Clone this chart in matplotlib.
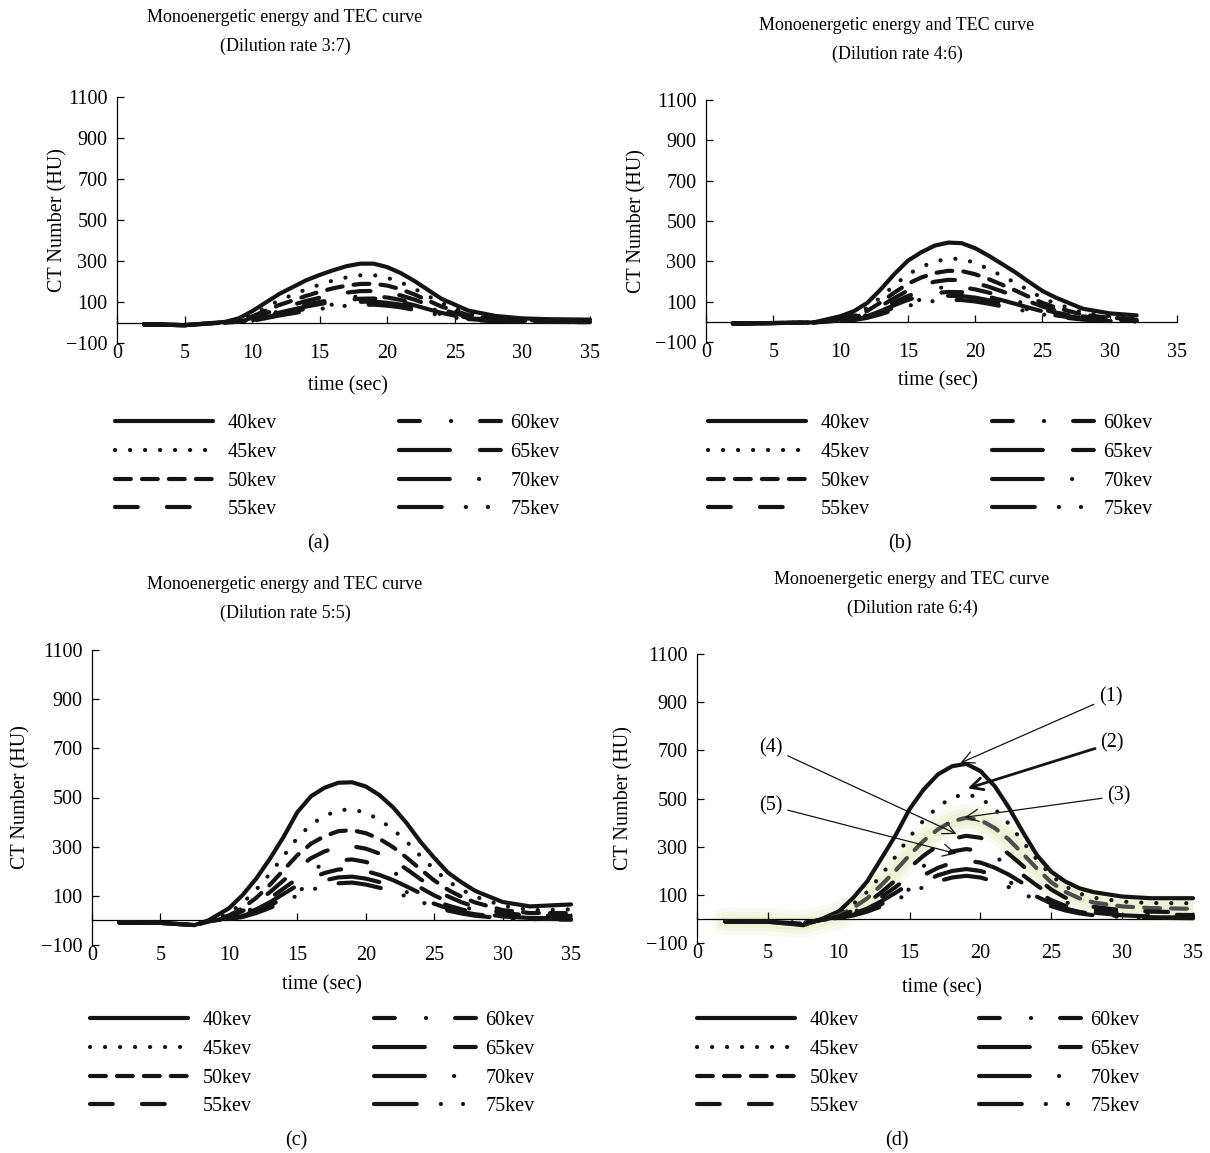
import matplotlib.pyplot as plt
import numpy as np

plt.rcParams['font.family'] = ['Liberation Serif', 'DejaVu Serif']
plt.rcParams['lines.scale_dashes'] = False

# labels
energies = ['40kev', '45kev', '50kev', '55kev', '60kev', '65kev', '70kev', '75kev']
dilutions = ['3:7', '4:6', '5:5', '6:4']
panel_tags = ['(a)', '(b)', '(c)', '(d)']
y_ticks = [-100, 100, 300, 500, 700, 900, 1100]
x_ticks = [0, 5, 10, 15, 20, 25, 30, 35]

# (a) dilution 3:7
time_a = [2, 5, 8, 9, 10, 12, 14, 15, 16, 17, 18, 19, 20, 21, 22, 24, 26, 28, 30, 32, 35]
a40 = [-9, -13, 3, 20, 55, 139, 206, 232, 255, 275, 287, 287, 270, 241, 203, 116, 58, 32, 20, 16, 14]
a45 = [-9, -13, 2, 14, 40, 108, 162, 185, 205, 220, 230, 231, 218, 196, 165, 95, 45, 22, 12, 9, 8]
a50 = [-9, -13, 1, 10, 30, 85, 130, 150, 167, 180, 188, 189, 180, 162, 137, 78, 36, 17, 9, 6, 5]
a55 = [-9, -13, 0, 7, 22, 67, 105, 121, 135, 146, 153, 154, 146, 132, 112, 63, 28, 13, 7, 5, 4]
a60 = [-9, -13, 0, 5, 17, 55, 87, 100, 112, 122, 128, 129, 122, 110, 93, 52, 22, 10, 5, 3, 3]
a65 = [-9, -13, 0, 4, 14, 48, 78, 90, 101, 110, 116, 117, 111, 100, 84, 47, 20, 9, 4, 3, 2]
a70 = [-9, -13, 0, 3, 11, 41, 67, 78, 88, 96, 101, 102, 96, 87, 73, 40, 17, 7, 3, 2, 2]
a75 = [-9, -13, 0, 2, 8, 34, 56, 66, 75, 82, 86, 87, 82, 74, 62, 34, 14, 6, 3, 2, 1]

# (b) dilution 4:6
time_b = [2, 5, 8, 10, 11, 12, 13, 14, 15, 16, 17, 18, 19, 20, 21, 22, 23, 24, 25, 26, 28, 30, 32]
b40 = [-8, -6, -3, 28, 53, 95, 162, 237, 303, 345, 378, 393, 390, 365, 328, 287, 245, 198, 153, 120, 65, 42, 32]
b45 = [-8, -6, -3, 20, 38, 70, 122, 182, 235, 272, 299, 313, 312, 292, 262, 228, 193, 155, 118, 90, 46, 28, 20]
b50 = [-8, -6, -3, 15, 29, 55, 97, 145, 189, 220, 242, 253, 252, 236, 212, 184, 155, 124, 94, 71, 35, 20, 14]
b55 = [-8, -6, -3, 11, 22, 43, 78, 118, 155, 181, 199, 208, 207, 194, 174, 151, 127, 101, 76, 57, 27, 15, 10]
b60 = [-8, -6, -3, 8, 17, 35, 64, 97, 128, 150, 166, 173, 172, 161, 145, 125, 105, 83, 62, 46, 21, 11, 7]
b65 = [-8, -6, -3, 6, 14, 29, 54, 83, 109, 128, 142, 148, 147, 138, 124, 107, 89, 70, 52, 38, 17, 8, 5]
b70 = [-8, -6, -3, 5, 11, 24, 46, 71, 94, 111, 123, 129, 128, 120, 107, 92, 77, 60, 44, 32, 14, 6, 3]
b75 = [-8, -6, -3, 4, 9, 20, 38, 59, 79, 94, 104, 109, 108, 101, 90, 77, 64, 50, 37, 26, 11, 4, 1]

# (c) dilution 5:5
time_c = [2, 5, 7.5, 8.5, 10, 11, 12, 13, 14, 15, 16, 17, 18, 19, 20, 21, 22, 23, 24, 25, 26, 27, 28, 30, 32, 35]
c40 = [-8, -10, -19, 0, 49, 103, 170, 251, 340, 440, 505, 540, 560, 562, 545, 510, 460, 395, 320, 255, 195, 155, 120, 75, 57, 65]
c45 = [-8, -10, -19, -2, 30, 70, 125, 190, 262, 335, 390, 425, 448, 452, 438, 410, 370, 320, 262, 208, 160, 125, 97, 60, 42, 45]
c50 = [-8, -10, -19, -3, 20, 50, 92, 145, 205, 265, 312, 343, 363, 367, 355, 332, 298, 255, 208, 163, 125, 96, 73, 42, 30, 30]
c55 = [-8, -10, -19, -3, 14, 38, 72, 115, 163, 212, 253, 281, 298, 302, 292, 272, 244, 208, 168, 130, 98, 74, 55, 30, 20, 18]
c60 = [-8, -10, -19, -4, 10, 28, 56, 90, 130, 170, 205, 229, 244, 248, 238, 220, 196, 166, 133, 102, 76, 57, 42, 22, 14, 12]
c65 = [-8, -10, -19, -4, 8, 22, 45, 74, 108, 142, 172, 193, 207, 210, 201, 185, 164, 138, 110, 83, 61, 45, 32, 16, 10, 8]
c70 = [-8, -10, -19, -4, 6, 18, 37, 61, 90, 119, 145, 163, 175, 178, 170, 156, 138, 115, 91, 68, 49, 35, 25, 12, 7, 5]
c75 = [-8, -10, -19, -4, 5, 14, 30, 51, 76, 101, 124, 140, 151, 154, 146, 133, 117, 97, 76, 56, 40, 28, 19, 9, 5, 3]

# (d) dilution 6:4
time_d = [2, 5, 7.5, 8.8, 10, 11, 12, 13, 14, 15, 16, 17, 18, 19, 20, 21, 22, 23, 24, 25, 26, 27, 28, 30, 32, 35]
d40 = [-10, -12, -26, 0, 31, 86, 155, 250, 346, 456, 538, 600, 634, 644, 614, 552, 463, 360, 264, 196, 155, 127, 111, 93, 86, 86]
d45 = [-10, -12, -24, -2, 20, 60, 112, 182, 258, 340, 410, 465, 505, 518, 502, 458, 395, 320, 245, 180, 135, 105, 88, 72, 66, 65]
d50 = [-10, -12, -22, -3, 14, 45, 85, 140, 200, 265, 325, 372, 405, 420, 410, 378, 330, 270, 208, 152, 112, 85, 68, 52, 45, 42]
d55 = [-10, -12, -20, -4, 10, 34, 66, 110, 160, 213, 263, 304, 333, 345, 337, 310, 270, 220, 168, 122, 88, 65, 50, 36, 30, 28]
d60 = [-10, -12, -18, -4, 8, 27, 53, 90, 132, 177, 220, 255, 280, 290, 282, 258, 224, 182, 138, 99, 70, 50, 37, 24, 18, 16]
d65 = [-10, -12, -17, -4, 6, 21, 43, 73, 108, 146, 182, 212, 233, 242, 234, 213, 184, 148, 111, 78, 54, 37, 26, 15, 10, 8]
d70 = [-10, -12, -16, -4, 5, 17, 36, 61, 91, 124, 155, 181, 199, 207, 199, 181, 155, 124, 92, 64, 43, 29, 20, 11, 7, 5]
d75 = [-10, -12, -15, -4, 4, 14, 30, 52, 78, 106, 133, 156, 172, 179, 172, 155, 132, 105, 77, 53, 35, 23, 15, 8, 5, 3]

# callouts in (d)
ann_labels = ['(1)', '(2)', '(3)', '(4)', '(5)']
ann_text = [(29.2, 922), (29.3, 730), (29.8, 511), (5.2, 710), (5.2, 470)]
ann_tip = [(18.6, 648), (19.1, 542), (18.9, 422), (18.3, 353), (18.3, 271)]
ann_lw = [0.9, 2.0, 0.9, 0.9, 0.9]

times = [time_a, time_b, time_c, time_d]
curves = [[a40, a45, a50, a55, a60, a65, a70, a75],
          [b40, b45, b50, b55, b60, b65, b70, b75],
          [c40, c45, c50, c55, c60, c65, c70, c75],
          [d40, d45, d50, d55, d60, d65, d70, d75]]

# line styles (points, round caps)
dash_styles = ['-',
               (0, (0.1, 10.7)),
               (0, (11.4, 8.0)),
               (0, (16.4, 21.0)),
               (0, (15, 22.4, 0.1, 20.9)),
               (0, (36.6, 21.7, 15, 21.7)),
               (0, (36.6, 21, 0.1, 21)),
               (0, (30.8, 17.3, 0.1, 15.8, 0.1, 17.3))]

W, H = 1210, 1153
# pixel layout: left, right, top(1100), bottom(-100), title center, ylabel x,
# xlabel xy, legend left col x, legend right col x, legend first row y, tag
layout = [
    (117, 590, 97, 343, (285, 32), -0.126, (0.488, -0.175), 113, 397, 424, (318, 544)),
    (706, 1177, 100, 342, (897, 40), -0.147, (0.493, -0.160), 706, 990, 424, (900, 544)),
    (92, 571, 650, 945, (285, 599), -0.148, (0.480, -0.135), 88, 372, 1021, (296, 1141)),
    (697, 1193, 654, 943, (912, 594), -0.147, (0.494, -0.155), 695, 977, 1021, (897, 1141)),
]

ink = '#141414'
fs = 14.5
fs_title = 13

fig = plt.figure(figsize=(W / 100, H / 100), dpi=100)

for i in range(4):
    l, r, t, b, tpos, ylx, xlpos, lx1, lx2, ly, tagpos = layout[i]
    ax = fig.add_axes([l / W, 1 - b / H, (r - l) / W, (b - t) / H])
    ax.set_xlim(0, 35)
    ax.set_ylim(-100, 1100)
    ax.spines['top'].set_visible(False)
    ax.spines['right'].set_visible(False)
    ax.spines['bottom'].set_position(('data', 0))
    ax.spines['left'].set_linewidth(0.9)
    ax.spines['bottom'].set_linewidth(0.9)
    ax.set_xticks(x_ticks)
    ax.set_yticks(y_ticks)
    ax.set_yticklabels([str(v).replace('-', '\u2212') for v in y_ticks])
    h_pt = (b - t) * 0.72
    ax.tick_params(axis='x', direction='in', length=5, width=0.9, pad=h_pt / 12 + 1, labelsize=fs)
    ax.tick_params(axis='y', direction='in', length=5, width=0.9, pad=7, labelsize=fs)

    lines = []
    for k in range(8):
        col = ink
        if i == 3 and k == 2:
            col = '#4d4d4d'
            # soft highlight around the 50kev curve
            for glow_w, glow_a in [(20, 0.18), (14, 0.25), (9, 0.3)]:
                ax.plot(times[i], curves[i][k], color='#e2ebb8', lw=glow_w, alpha=glow_a,
                        solid_capstyle='round', solid_joinstyle='round', zorder=1)
        ln, = ax.plot(times[i], curves[i][k], color=col, lw=3, linestyle=dash_styles[k],
                      dash_capstyle='round', solid_capstyle='round', zorder=3,
                      clip_on=False)
        lines.append(ln)

    ax.set_ylabel('CT Number (HU)', fontsize=fs, va='center')
    ax.yaxis.set_label_coords(ylx, 0.5)
    ax.set_xlabel('time (sec)', fontsize=fs, va='center')
    ax.xaxis.set_label_coords(xlpos[0], xlpos[1])

    fig.text(tpos[0] / W, 1 - tpos[1] / H,
             'Monoenergetic energy and TEC curve\n(Dilution rate ' + dilutions[i] + ')',
             ha='center', va='center', fontsize=fs_title, linespacing=1.95)
    fig.text(tagpos[0] / W, 1 - tagpos[1] / H, panel_tags[i], ha='center', va='center', fontsize=fs)

    leg_top = 1 - (ly - 10) / H
    leg1 = ax.legend(lines[:4], energies[:4], loc='upper left',
                     bbox_to_anchor=((lx1 + 2) / W, leg_top), bbox_transform=fig.transFigure,
                     frameon=False, fontsize=fs, handlelength=4.87, handletextpad=0.745,
                     labelspacing=0.48, borderpad=0, borderaxespad=0)
    ax.add_artist(leg1)
    leg2 = ax.legend(lines[4:], energies[4:], loc='upper left',
                     bbox_to_anchor=((lx2 + 2) / W, leg_top), bbox_transform=fig.transFigure,
                     frameon=False, fontsize=fs, handlelength=5.07, handletextpad=0.45,
                     labelspacing=0.48, borderpad=0, borderaxespad=0)
    for hnd in leg1.legend_handles + leg2.legend_handles:
        hnd.set_color(ink)

    if i == 3:
        for j in range(5):
            ax.annotate(ann_labels[j], xy=ann_tip[j], xytext=ann_text[j], fontsize=fs,
                        ha='center', va='center', zorder=5,
                        arrowprops=dict(arrowstyle='->,head_length=0.6,head_width=0.3',
                                        lw=ann_lw[j], color=ink, shrinkB=0))

fig.savefig('out.png', dpi=100)
